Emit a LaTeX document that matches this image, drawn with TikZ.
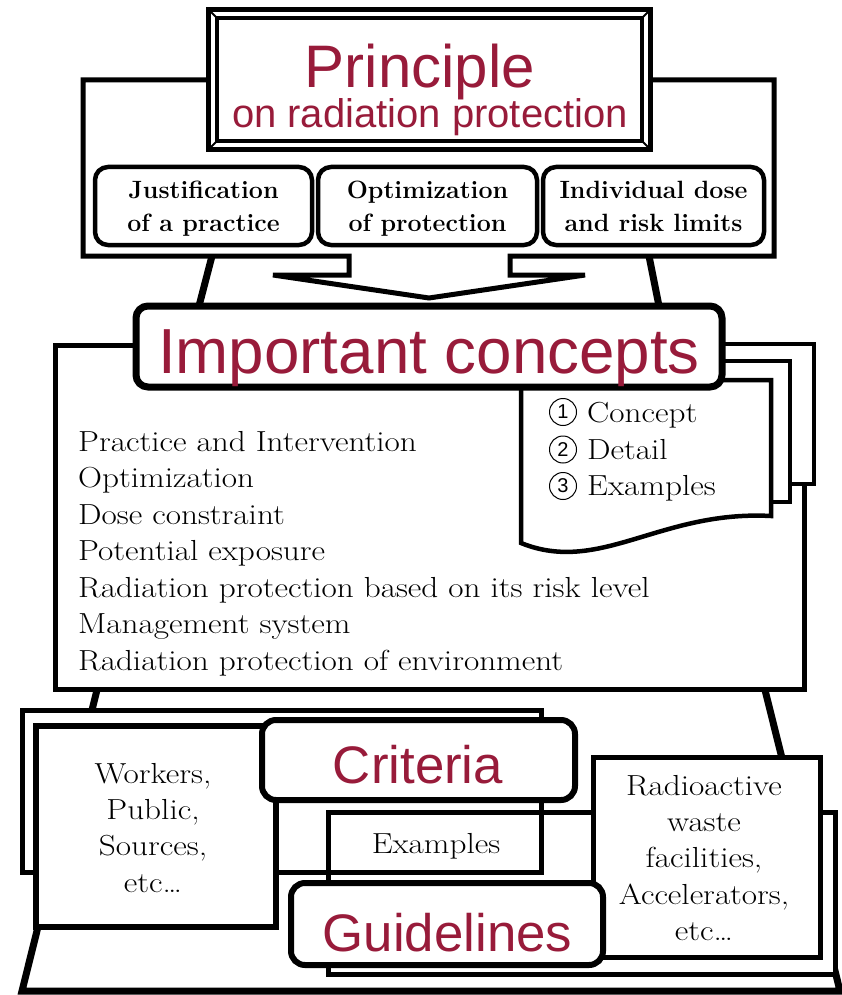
\documentclass[tikz,border=0pt]{standalone}
\usepackage{graphicx}
\usepackage{fontspec}
\newfontfamily\headfont{Liberation Sans}
\definecolor{headred}{RGB}{152,27,58}
\newcommand{\wide}[1]{\scalebox{1.145}[1]{#1}}
\begin{document}
\begin{tikzpicture}[x=1pt,y=-1pt,line join=miter,
  legline/.style={line width=7pt},
  plainbox/.style={draw=black,fill=white,line width=5pt},
  roundbox/.style={draw=black,fill=white,line width=4.5pt,rounded corners=13pt},
  bigbox/.style={draw=black,fill=white,line width=6pt,rounded corners=14pt},
  pagebox/.style={draw=black,fill=white,line width=4.5pt},
  headtxt/.style={inner sep=0pt,anchor=base,text=headred},
  bodytxt/.style={inner sep=0pt,anchor=base,font=\fontsize{29}{35}\selectfont},
  bodyleft/.style={bodytxt,anchor=base west},
  numcircle/.style={circle,draw=black,line width=1pt,minimum size=27pt,inner sep=0pt,
    font=\headfont\fontsize{20}{20}\selectfont},
  boldtxt/.style={inner sep=0pt,anchor=base,font=\bfseries\fontsize{25}{30}\selectfont}]
\useasboundingbox (0,0) rectangle (842,995);

% lower trapezoid and upper legs
\draw[legline] (97,690) -- (22,991) -- (840,991) -- (765,690);
\draw[legline] (212,256) -- (199,306);
\draw[legline] (649,256) -- (659,306);

% back frame with arrow
\draw[plainbox] (83,80) -- (774,80) -- (774,256) -- (510,256) -- (510,275) -- (585,275)
  -- (429,298) -- (273,275) -- (349,275) -- (349,256) -- (83,256) -- cycle;

% Principle box
\draw[line width=5pt,fill=white] (208.5,9.5) rectangle (650.5,149.5);
\draw[line width=3.5pt] (217,18) rectangle (642,141);
\draw[line width=2pt] (208.5,9.5) -- (217,18) (650.5,9.5) -- (642,18)
  (208.5,149.5) -- (217,141) (650.5,149.5) -- (642,141);
\node[headtxt,font=\headfont\fontsize{60}{60}\selectfont] (principle) at (420,88) {Principle};
\node[headtxt,font=\headfont\fontsize{40}{40}\selectfont] (onrad) at (430,128) {on radiation protection};

% three principle boxes
\draw[roundbox] (95,167) rectangle (312,245);
\draw[roundbox] (318,167) rectangle (537,245);
\draw[roundbox] (543,167) rectangle (764,245);
\node[boldtxt] (j1) at (203.5,199) {Justification};
\node[boldtxt] (j2) at (203.5,231) {of a practice};
\node[boldtxt] (o1) at (427.5,199) {Optimization};
\node[boldtxt] (o2) at (427.5,231) {of protection};
\node[boldtxt] (i1) at (653.5,199) {Individual dose};
\node[boldtxt] (i2) at (653.5,231) {and risk limits};

% main concept box and pages
\draw[plainbox] (55,345) rectangle (804,689);
\draw[pagebox] (600,344) rectangle (814,484);
\draw[pagebox] (580,361) rectangle (790,502);
\draw[pagebox] (521,380) -- (771,380) -- (771,516) .. controls (660,510) and (600,575) .. (521,543) -- cycle;
\draw[bigbox,line width=7pt,rounded corners=12pt] (136,306) rectangle (722,387);
\node[headtxt,font=\headfont\fontsize{63.7}{64}\selectfont] (important) at (429,373) {Important concepts};

\node[bodyleft] (c1) at (78,451) {\wide{Practice and Intervention}};
\node[bodyleft] (c2) at (78,487.5) {\wide{Optimization}};
\node[bodyleft] (c3) at (78,524) {\wide{Dose constraint}};
\node[bodyleft] (c4) at (78,560.5) {\wide{Potential exposure}};
\node[bodyleft] (c5) at (78,597) {\wide{Radiation protection based on its risk level}};
\node[bodyleft] (c6) at (78,633.5) {\wide{Management system}};
\node[bodyleft] (c7) at (78,670) {\wide{Radiation protection of environment}};

\node[numcircle] (n1) at (563,412) {1};
\node[numcircle] (n2) at (563,449.5) {2};
\node[numcircle] (n3) at (563,486) {3};
\node[bodyleft] (p1) at (587,422) {\wide{Concept}};
\node[bodyleft] (p2) at (587,459) {\wide{Detail}};
\node[bodyleft] (p3) at (587,495) {\wide{Examples}};

% lower sheets
\draw[plainbox] (22,710) rectangle (541,872);
\draw[plainbox] (328,812) rectangle (835,974);
\draw[line width=5pt] (328,812) rectangle (541,872);
\draw[plainbox,line width=5.5pt] (36,726) rectangle (276,927);
\draw[bigbox] (262,720) rectangle (575,800);
\draw[plainbox] (593,757) rectangle (820,957);
\draw[bigbox] (291,883) rectangle (603,965);

\node[bodytxt] (w1) at (153,783) {\wide{Workers,}};
\node[bodytxt] (w2) at (153,819) {\wide{Public,}};
\node[bodytxt] (w3) at (153,855) {\wide{Sources,}};
\node[bodytxt] (w4) at (153,892) {\wide{etc…}};

\node[headtxt,font=\headfont\fontsize{52.8}{53}\selectfont] (criteria) at (418,783) {Criteria};
\node[headtxt,font=\headfont\fontsize{52.8}{53}\selectfont] (guidelines) at (447.5,951) {Guidelines};
\node[bodytxt] (examples) at (436,853) {\wide{Examples}};

\node[bodytxt] (r1) at (704,795) {\wide{Radioactive}};
\node[bodytxt] (r2) at (704,831) {\wide{waste}};
\node[bodytxt] (r3) at (704,867) {\wide{facilities,}};
\node[bodytxt] (r4) at (704,904) {\wide{Accelerators,}};
\node[bodytxt] (r5) at (704,940) {\wide{etc…}};
\end{tikzpicture}
\end{document}
